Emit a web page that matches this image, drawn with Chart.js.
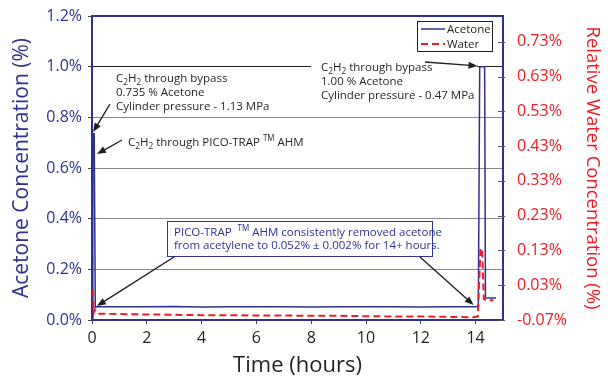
<!DOCTYPE html>
<html>
<head>
<meta charset="utf-8">
<script src="https://cdn.jsdelivr.net/npm/chart.js@4.4.1/dist/chart.umd.min.js"></script>
<style>
  html, body { margin: 0; padding: 0; background: #fff; }
  #wrap { width: 608px; height: 383px; }
</style>
</head>
<body>
<div id="wrap"><canvas id="acetoneChart"></canvas></div>
<script>
// acetone, left axis (%)
const acetoneHours  = [0, 0.03, 0.08, 0.12, 0.2, 1, 2, 3, 4, 5, 6, 7, 8, 9, 10, 11, 12, 13, 14, 14.1, 14.15, 14.33, 14.36, 14.5, 14.75];
const acetoneValues = [0, 0.735, 0.735, 0.05, 0.052, 0.052, 0.052, 0.053, 0.051, 0.052, 0.052, 0.052, 0.051, 0.052, 0.052, 0.052, 0.051, 0.052, 0.052, 0.055, 1.0, 1.0, 0.088, 0.087, 0.087];

// water, right axis (%)
const waterHours  = [0, 0.02, 0.06, 0.1, 0.15, 0.22, 0.4, 1, 2, 3, 4, 5, 6, 7, 8, 9, 10, 11, 12, 13, 13.9, 14.08, 14.18, 14.24, 14.3, 14.4, 14.65];
const waterValues = [0.016, 0.016, -0.05, -0.04, -0.048, -0.052, -0.052, -0.053, -0.054, -0.055, -0.056, -0.056, -0.057, -0.057, -0.058, -0.058, -0.059, -0.06, -0.06, -0.061, -0.062, -0.06, 0.137, 0.13, -0.01, -0.013, -0.013];

// tick labels
const timeTicks = [0, 2, 4, 6, 8, 10, 12, 14];
const acetoneTicks = [0, 0.2, 0.4, 0.6, 0.8, 1.0, 1.2];
const waterTicks = [-0.07, 0.03, 0.13, 0.23, 0.33, 0.43, 0.53, 0.63, 0.73];

const BLUE = '#2e3192';
const RED = '#ed1c24';
const INK = '#231f20';
const FONT = "'Open Sans', sans-serif";

Chart.defaults.font.family = FONT;

function toPoints(xs, ys) {
    return xs.map((x, i) => ({ x: x, y: ys[i] }));
}

// small rich text: "_2" is a subscript digit, "^TM" a superscript
function drawRich(ctx, x, y, str, size, color) {
    ctx.fillStyle = color;
    ctx.textAlign = 'left';
    ctx.textBaseline = 'alphabetic';
    str.split(/(_\d|\^TM)/).forEach(part => {
        if (!part) return;
        let txt = part, s = size, dy = 0;
        if (part[0] === '_') { txt = part.slice(1); s = size * 0.72; dy = size * 0.22; }
        if (part[0] === '^') { txt = part.slice(1); s = size * 0.7; dy = -size * 0.45; }
        ctx.font = s + 'px ' + FONT;
        ctx.fillText(txt, x, y + dy);
        x += ctx.measureText(txt).width;
    });
}

function arrow(ctx, x1, y1, x2, y2) {
    const a = Math.atan2(y2 - y1, x2 - x1);
    const len = 9, w = 3.5;
    ctx.save();
    ctx.strokeStyle = INK;
    ctx.fillStyle = INK;
    ctx.lineWidth = 1.4;
    ctx.beginPath();
    ctx.moveTo(x1, y1);
    ctx.lineTo(x2 - Math.cos(a) * len * 0.8, y2 - Math.sin(a) * len * 0.8);
    ctx.stroke();
    ctx.beginPath();
    ctx.moveTo(x2, y2);
    ctx.lineTo(x2 - Math.cos(a) * len - Math.sin(a) * w, y2 - Math.sin(a) * len + Math.cos(a) * w);
    ctx.lineTo(x2 - Math.cos(a) * len + Math.sin(a) * w, y2 - Math.sin(a) * len - Math.cos(a) * w);
    ctx.closePath();
    ctx.fill();
    ctx.restore();
}

const notes = {
    id: 'notes',
    afterDatasetsDraw(chart) {
        const ctx = chart.ctx;
        const xs = chart.scales.x, ys = chart.scales.y;
        const a = chart.chartArea;
        const px = h => xs.getPixelForValue(h);
        const py = v => ys.getPixelForValue(v);

        ctx.save();
        // top frame line
        ctx.strokeStyle = BLUE;
        ctx.lineWidth = 2;
        ctx.beginPath();
        ctx.moveTo(a.left - 1, a.top);
        ctx.lineTo(a.right + 1, a.top);
        ctx.stroke();

        // inward ticks on the right axis
        const y2 = chart.scales.y2;
        ctx.strokeStyle = '#555';
        ctx.lineWidth = 1;
        y2.ticks.forEach(t => {
            const y = Math.round(y2.getPixelForValue(t.value)) + 0.5;
            ctx.beginPath();
            ctx.moveTo(a.right - 5, y);
            ctx.lineTo(a.right + 2, y);
            ctx.stroke();
        });

        // first bypass note
        drawRich(ctx, 116, 82, 'C_2H_2 through bypass', 11.5, INK);
        drawRich(ctx, 116, 96, '0.735 % Acetone', 11.5, INK);
        drawRich(ctx, 116, 110, 'Cylinder pressure - 1.13 MPa', 11.5, INK);
        arrow(ctx, 110, 104, px(0.04), py(0.742));

        drawRich(ctx, 128, 146, 'C_2H_2 through PICO-TRAP ^TM AHM', 11.5, INK);
        arrow(ctx, 122, 140, px(0.18), py(0.655));

        // second bypass note, white behind it hides the grid line
        ctx.fillStyle = '#fff';
        ctx.fillRect(311, py(1.0) - 3, px(14.05) - 311, 6);
        drawRich(ctx, 321, 71, 'C_2H_2 through bypass', 11.5, INK);
        drawRich(ctx, 321, 85, '1.00 % Acetone', 11.5, INK);
        drawRich(ctx, 321, 99, 'Cylinder pressure - 0.47 MPa', 11.5, INK);
        arrow(ctx, 425, 62, px(14.07), py(1.003));

        // summary box
        ctx.fillStyle = '#fff';
        ctx.fillRect(167, 221, 265, 35);
        ctx.strokeStyle = BLUE;
        ctx.lineWidth = 1;
        ctx.strokeRect(167.5, 221.5, 265, 35);
        drawRich(ctx, 174, 236, 'PICO-TRAP  ^TM AHM consistently removed acetone', 11.5, BLUE);
        drawRich(ctx, 174, 249, 'from acetylene to 0.052% \u00b1 0.002% for 14+ hours.', 11.5, BLUE);
        arrow(ctx, 174, 257, px(0.18), py(0.055));
        arrow(ctx, 420, 257, px(13.93), py(0.059));

        // legend
        const lx = 417, ly = 21;
        ctx.fillStyle = '#fff';
        ctx.fillRect(lx, ly, 75, 30);
        ctx.strokeStyle = INK;
        ctx.lineWidth = 1;
        ctx.strokeRect(lx + 0.5, ly + 0.5, 75, 30);
        chart.data.datasets.forEach((ds, i) => {
            const y = ly + 8 + i * 15;
            ctx.strokeStyle = ds.borderColor;
            ctx.lineWidth = ds.borderWidth;
            ctx.setLineDash(ds.borderDash || []);
            ctx.beginPath();
            ctx.moveTo(lx + 4, y);
            ctx.lineTo(lx + 28, y);
            ctx.stroke();
            ctx.setLineDash([]);
            drawRich(ctx, lx + 30, y + 4, ds.label, 11.5, INK);
        });
        ctx.restore();
    }
};

new Chart(document.getElementById('acetoneChart'), {
    type: 'line',
    data: {
        datasets: [{
            label: 'Acetone',
            data: toPoints(acetoneHours, acetoneValues),
            yAxisID: 'y',
            borderColor: BLUE,
            borderWidth: 1.5,
            pointRadius: 0,
            tension: 0,
            order: 1
        }, {
            label: 'Water',
            data: toPoints(waterHours, waterValues),
            yAxisID: 'y2',
            borderColor: RED,
            borderWidth: 2,
            borderDash: [7, 4],
            pointRadius: 0,
            tension: 0,
            order: 0
        }]
    },
    options: {
        responsive: true,
        maintainAspectRatio: false,
        animation: false,
        layout: { padding: { top: 16, left: 0, right: 0, bottom: 0 } },
        plugins: { legend: { display: false }, tooltip: { enabled: false } },
        scales: {
            x: {
                type: 'linear',
                min: 0,
                max: 15,
                afterBuildTicks: s => { s.ticks = timeTicks.map(v => ({ value: v })); },
                afterFit: s => { s.height = 63; },
                ticks: { color: INK, font: { size: 16 }, padding: 5 },
                grid: { drawOnChartArea: false, tickLength: 4, color: '#444' },
                border: { color: BLUE, width: 2 },
                title: { display: true, text: 'Time (hours)', color: INK, font: { size: 22 }, padding: { top: 0, bottom: 4 } }
            },
            y: {
                position: 'left',
                min: 0,
                max: 1.2,
                afterBuildTicks: s => { s.ticks = acetoneTicks.map(v => ({ value: v })); },
                afterFit: s => { s.width = 92; },
                ticks: { color: BLUE, font: { size: 16 }, padding: 6, callback: v => v.toFixed(1) + '%' },
                grid: {
                    tickLength: 4,
                    tickColor: '#444',
                    color: c => (c.index === 0 || c.index === acetoneTicks.length - 1) ? 'rgba(0,0,0,0)' : (c.index === 5 ? '#222' : '#888')
                },
                border: { color: BLUE, width: 2 },
                title: { display: true, text: 'Acetone Concentration (%)', color: BLUE, font: { size: 21 }, padding: { top: 9, bottom: 0 } }
            },
            y2: {
                position: 'right',
                min: -0.07,
                max: 0.804,
                afterBuildTicks: s => { s.ticks = waterTicks.map(v => ({ value: v })); },
                afterFit: s => { s.width = 105; },
                ticks: { color: RED, font: { size: 16 }, padding: 4, callback: v => v.toFixed(2) + '%' },
                grid: { drawOnChartArea: false, drawTicks: true, tickLength: 10, tickColor: 'rgba(0,0,0,0)' },
                border: { color: BLUE, width: 2 },
                title: { display: true, text: 'Relative Water Concentration (%)', color: RED, font: { size: 18.5 }, padding: { top: 5, bottom: 0 } }
            }
        }
    },
    plugins: [notes]
});
</script>
</body>
</html>
